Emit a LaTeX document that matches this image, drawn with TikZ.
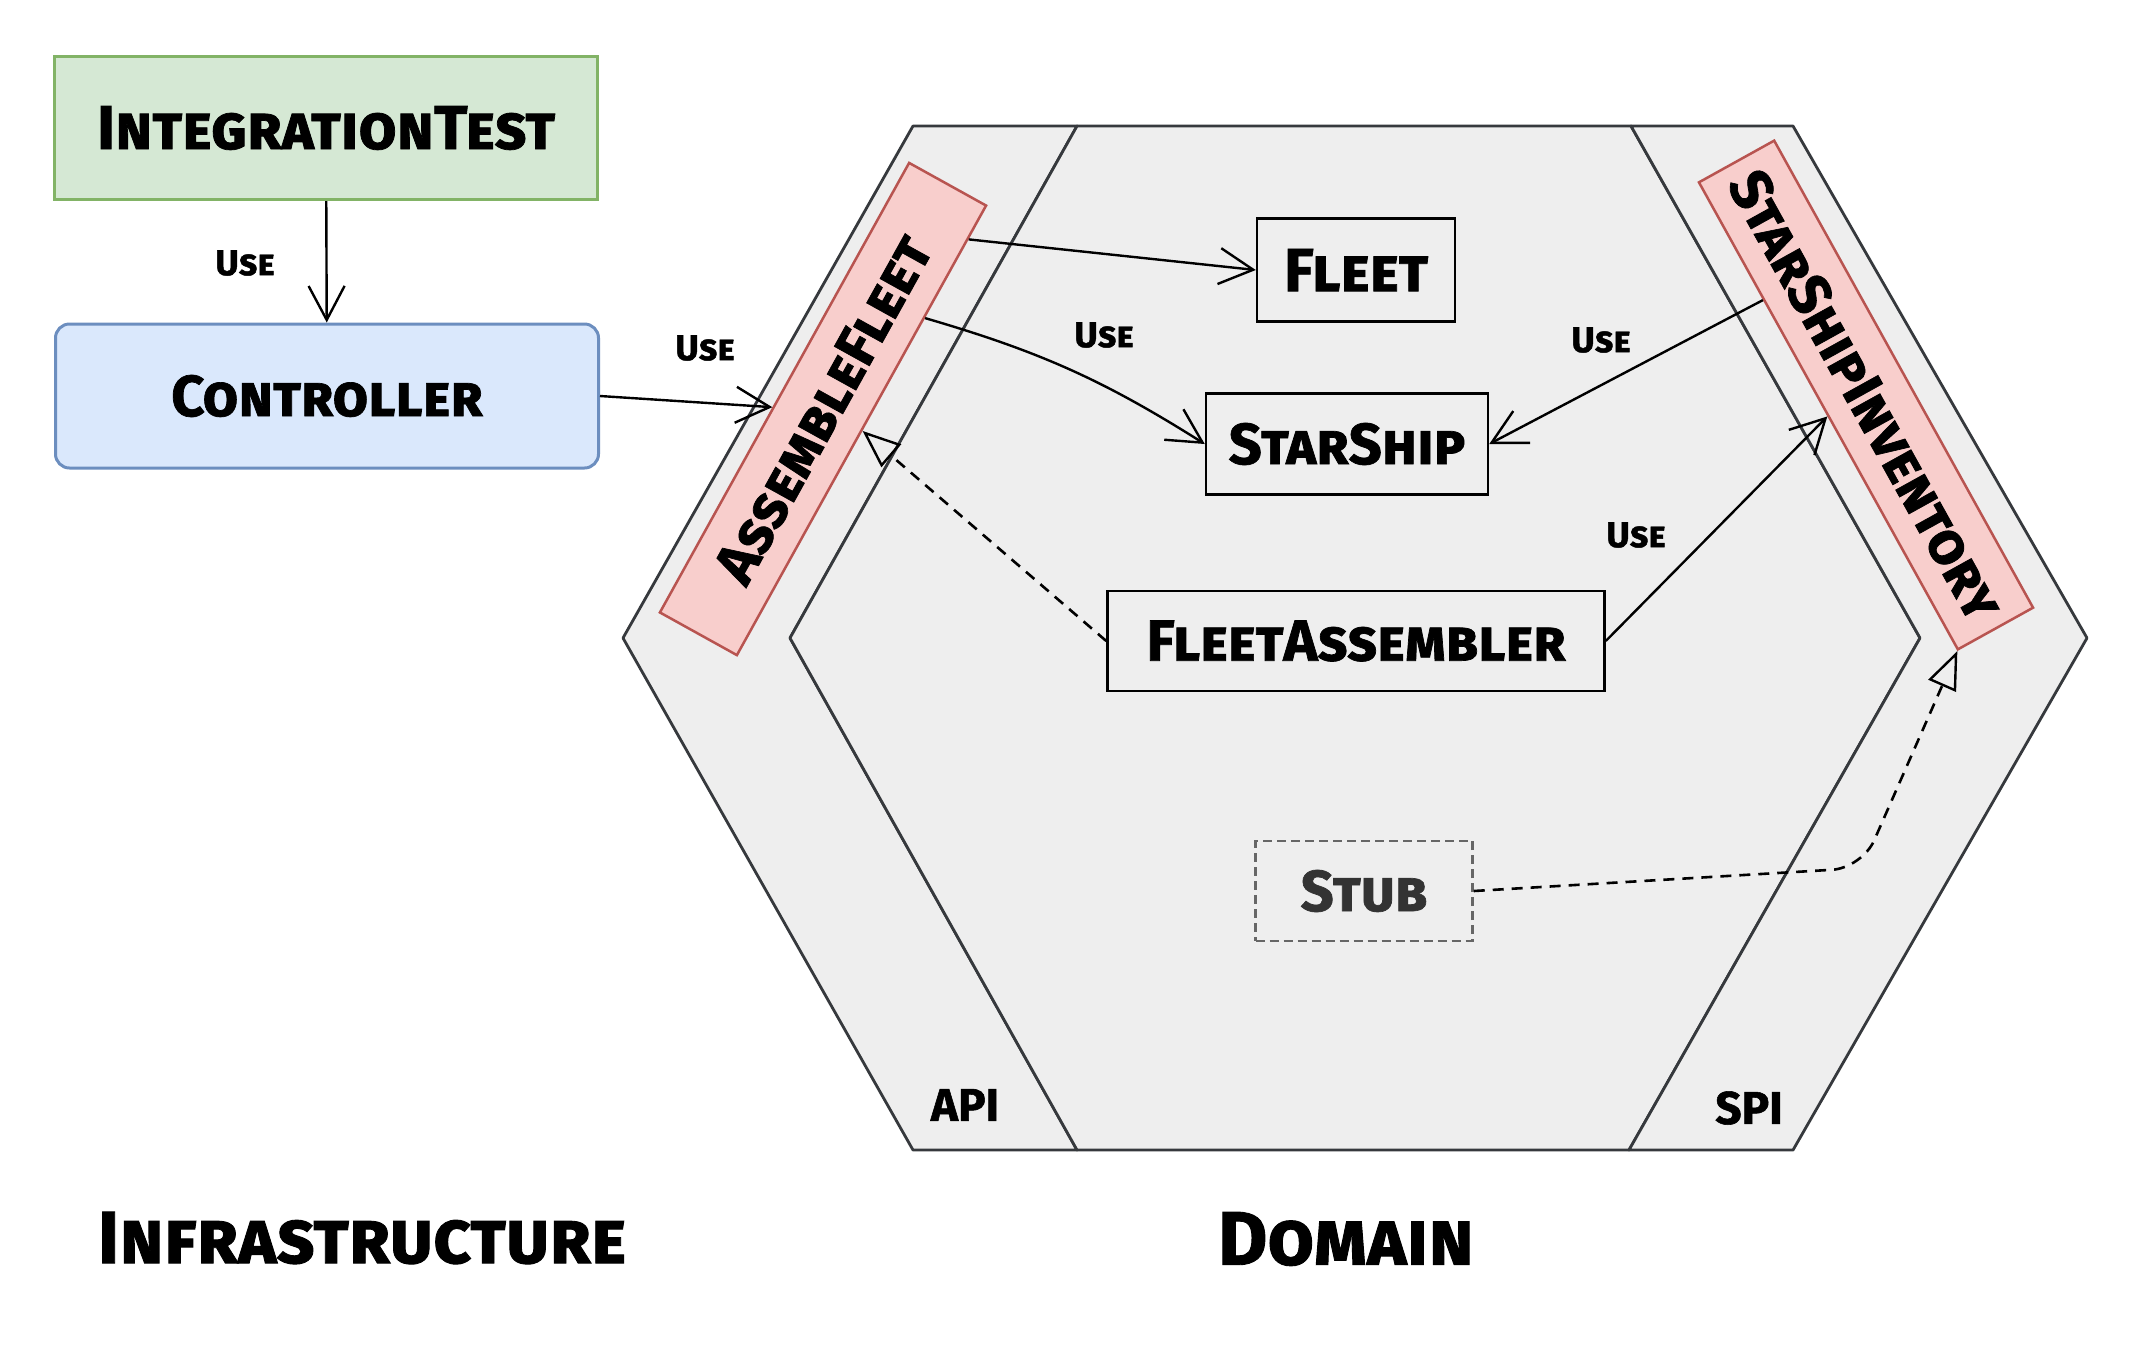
\documentclass[tikz,border=0pt]{standalone}
\usepackage{fontspec}
\setmainfont{Fira Sans}[BoldFeatures={FakeBold=1.2}]
\usetikzlibrary{arrows.meta,calc}
\definecolor{hexfill}{HTML}{EEEEEE}
\definecolor{hexline}{HTML}{36393D}
\definecolor{gfill}{HTML}{D5E8D4}
\definecolor{gline}{HTML}{82B366}
\definecolor{bfill}{HTML}{DAE8FC}
\definecolor{bline}{HTML}{6C8EBF}
\definecolor{rfill}{HTML}{F8CECC}
\definecolor{rline}{HTML}{B85450}
\definecolor{stubline}{HTML}{666666}
\definecolor{stubtext}{HTML}{333333}
\tikzset{
  big/.style={font=\fontsize{58}{66}\selectfont\bfseries\scshape},
  uselbl/.style={font=\fontsize{36}{40}\selectfont\bfseries\scshape},
  band/.style={fill=hexfill, draw=hexline, line width=2.8pt, line join=round},
  greenbox/.style={big, fill=gfill, draw=gline, line width=3pt, inner sep=0pt},
  bluebox/.style={big, fill=bfill, draw=bline, line width=3pt, rounded corners=14pt, inner sep=0pt},
  redbox/.style={big, fill=rfill, draw=rline, line width=2.5pt, inner sep=0pt},
  plainbox/.style={big, draw=black, line width=2.5pt, inner sep=0pt},
  stubbox/.style={big, text=stubtext, draw=stubline, line width=2.5pt, dash pattern=on 9pt off 5pt, inner sep=0pt},
  conn/.style={draw=black, line width=2.4pt, -{Straight Barb[length=34pt,width=36pt,line width=2.4pt]}},
  impl/.style={draw=black, line width=2.6pt, dash pattern=on 11pt off 8pt, -{Triangle[open,length=38pt,width=30pt,line width=2.4pt]}},
}
\begin{document}
\begin{tikzpicture}[x=1pt,y=-1pt]
\useasboundingbox[fill=white] (0,0) rectangle (2146,1350);
% hexagon
\coordinate (TL) at (913,126);
\coordinate (A) at (1077,126);
\coordinate (B) at (1631,126);
\coordinate (TR) at (1793,126);
\coordinate (R) at (2087,638);
\coordinate (BR) at (1793,1150);
\coordinate (C) at (1629,1150);
\coordinate (D) at (1077,1150);
\coordinate (BL) at (913,1150);
\coordinate (L) at (623,638);
\coordinate (IL) at (790,638);
\coordinate (IR) at (1920,638);
\draw[band] (TL) -- (A) -- (IL) -- (D) -- (BL) -- (L) -- cycle;
\draw[band] (A) -- (B) -- (IR) -- (C) -- (D) -- (IL) -- cycle;
\draw[band] (B) -- (TR) -- (R) -- (BR) -- (C) -- (IR) -- cycle;

% nodes
\node[greenbox, minimum width=543pt, minimum height=143pt, font=\fontsize{62}{70}\selectfont\bfseries\scshape] (IT) at (326,128) {IntegrationTest};
\node[bluebox, minimum width=543pt, minimum height=144pt] (CTRL) at (327,396) {Controller};
\node[redbox, rotate=61, minimum width=514pt, minimum height=88pt] (AF) at (823,409) {AssembleFleet};
\node[redbox, rotate=-61, minimum width=534pt, minimum height=86pt] (SI) at (1866,395) {StarShipInventory};
\node[plainbox, minimum width=198pt, minimum height=103pt, font=\fontsize{61}{66}\selectfont\bfseries\scshape] (Fleet) at (1356,270) {Fleet};
\node[plainbox, minimum width=282pt, minimum height=101pt] (SS) at (1347,444) {StarShip};
\node[plainbox, minimum width=497pt, minimum height=100pt] (FA) at (1356,641) {FleetAssembler};
\node[stubbox, minimum width=217pt, minimum height=100pt] (Stub) at (1364,891) {Stub};
\coordinate (stubturn) at (1862,868);

% connectors
\draw[conn] (IT) -- (CTRL);
\draw[conn] (CTRL.east) -- ($(AF.north)!23pt!(AF.north west)$);
\draw[conn] ($(AF.south)!219pt!(AF.south east)$) -- (Fleet.west);
\draw[conn] ($(AF.south)!129pt!(AF.south east)$) to[bend left=8] (SS.west);
\draw[conn] ($(SI.south)!133pt!(SI.south west)$) -- (SS.east);
\draw[conn] (FA.east) -- (SI.south);
\draw[impl] (FA.west) -- (AF.south);
\draw[impl, rounded corners=30pt] (Stub.east) -- (stubturn) -- (SI.south east);

% labels
\node[uselbl] (u1) at (245,263) {Use};
\node[uselbl] (u2) at (705,348) {Use};
\node[uselbl] (u3) at (1104,335) {Use};
\node[uselbl] (u4) at (1601,340) {Use};
\node[uselbl] (u5) at (1636,535) {Use};
\node[font=\fontsize{46}{50}\selectfont\bfseries\scshape] (api) at (965,1105) {API};
\node[font=\fontsize{46}{50}\selectfont\bfseries\scshape] (spi) at (1749,1108) {SPI};
\node[font=\fontsize{74}{80}\selectfont\bfseries\scshape] (infra) at (362,1238) {Infrastructure};
\node[font=\fontsize{76}{80}\selectfont\bfseries\scshape] (dom) at (1346,1239) {Domain};
\end{tikzpicture}
\end{document}
